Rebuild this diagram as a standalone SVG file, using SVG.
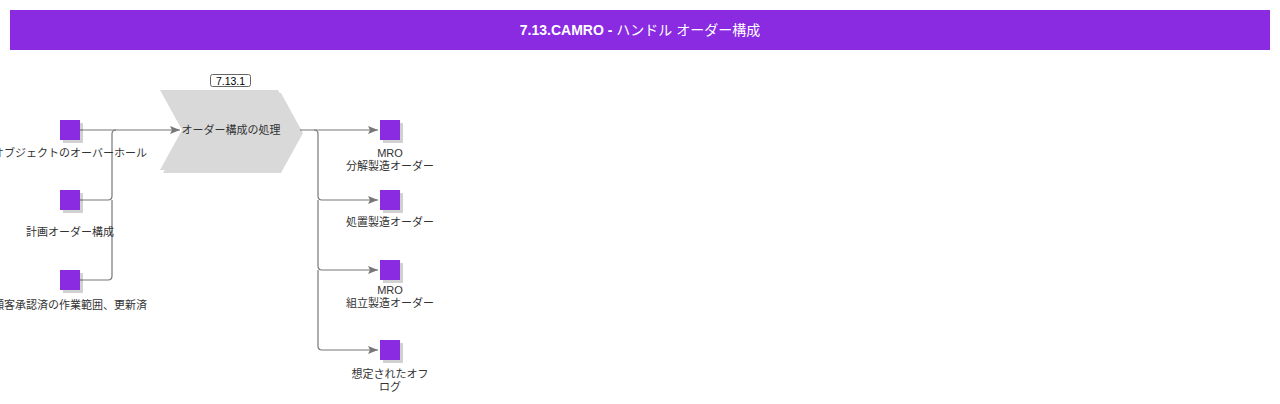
<svg xmlns="http://www.w3.org/2000/svg" width="1280" height="404" viewBox="0 0 1280 404">
<defs>
<style>
.lbl{font-family:"Liberation Sans","Noto Sans CJK JP",sans-serif;font-size:11px;fill:#333;text-anchor:middle}
.sq{fill:#8a2be2}
.sh{fill:#000;opacity:0.18}
.ln{fill:none;stroke:#777;stroke-width:1.2}
</style>
<marker id="ar" markerWidth="10" markerHeight="8" refX="10" refY="4" orient="auto" markerUnits="userSpaceOnUse">
<path d="M0,0 L10,4 L0,8 L2,4 Z" fill="#777"/>
</marker>
</defs>
<rect width="1280" height="404" fill="#fff"/>
<g id="header">
<rect x="10" y="10" width="1260" height="40" fill="#8a2be2"/>
<text x="640" y="35" font-family="Liberation Sans,'Noto Sans CJK JP',sans-serif" font-size="14" font-weight="bold" fill="#fff" text-anchor="middle">7.13.CAMRO - <tspan font-weight="normal">ハンドル オーダー構成</tspan></text>
</g>
<g id="connectors">
<path class="ln" d="M80,130 L180,130" marker-end="url(#ar)"/>
<path class="ln" d="M80,200 L108,200 Q112,200 112,196 L112,134 Q112,130 116,130"/>
<path class="ln" d="M80,280 L108,280 Q112,280 112,276 L112,200"/>
<path class="ln" d="M300,130 L378,130" marker-end="url(#ar)"/>
<path class="ln" d="M314,130 Q318,130 318,134 L318,196 Q318,200 322,200 L378,200" marker-end="url(#ar)"/>
<path class="ln" d="M318,200 L318,266 Q318,270 322,270 L378,270" marker-end="url(#ar)"/>
<path class="ln" d="M318,270 L318,346 Q318,350 322,350 L378,350" marker-end="url(#ar)"/>
</g>
<g id="process">
<polygon points="163,93 281,93 303,133 281,173 163,173 185,133" fill="#000" opacity="0.15"/>
<polygon points="160,90 278,90 300,130 278,170 160,170 182,130" fill="#d9d9da"/>
<text class="lbl" x="231" y="134">オーダー構成の処理</text>
<rect x="210.5" y="74.5" width="40" height="12" rx="2" fill="#fff" stroke="#666" stroke-width="1"/>
<text x="230.5" y="84.5" font-family="Liberation Sans,sans-serif" font-size="10.5" fill="#000" text-anchor="middle">7.13.1</text>
</g>
<g id="in1">
<rect class="sh" x="63" y="123" width="20" height="20"/>
<rect class="sq" x="60" y="120" width="20" height="20"/>
<text class="lbl" x="70" y="157">オブジェクトのオーバーホール</text>
</g>
<g id="in2">
<rect class="sh" x="63" y="193" width="20" height="20"/>
<rect class="sq" x="60" y="190" width="20" height="20"/>
<text class="lbl" x="70" y="236">計画オーダー構成</text>
</g>
<g id="in3">
<rect class="sh" x="63" y="273" width="20" height="20"/>
<rect class="sq" x="60" y="270" width="20" height="20"/>
<text class="lbl" x="70" y="309">顧客承認済の作業範囲、更新済</text>
</g>
<g id="out1">
<rect class="sh" x="383" y="123" width="20" height="20"/>
<rect class="sq" x="380" y="120" width="20" height="20"/>
<text class="lbl" x="390" y="157">MRO</text>
<text class="lbl" x="390" y="170">分解製造オーダー</text>
</g>
<g id="out2">
<rect class="sh" x="383" y="193" width="20" height="20"/>
<rect class="sq" x="380" y="190" width="20" height="20"/>
<text class="lbl" x="390" y="226">処置製造オーダー</text>
</g>
<g id="out3">
<rect class="sh" x="383" y="263" width="20" height="20"/>
<rect class="sq" x="380" y="260" width="20" height="20"/>
<text class="lbl" x="390" y="294">MRO</text>
<text class="lbl" x="390" y="307">組立製造オーダー</text>
</g>
<g id="out4">
<rect class="sh" x="383" y="343" width="20" height="20"/>
<rect class="sq" x="380" y="340" width="20" height="20"/>
<text class="lbl" x="390" y="378">想定されたオフ</text>
<text class="lbl" x="390" y="391">ログ</text>
</g>
</svg>
